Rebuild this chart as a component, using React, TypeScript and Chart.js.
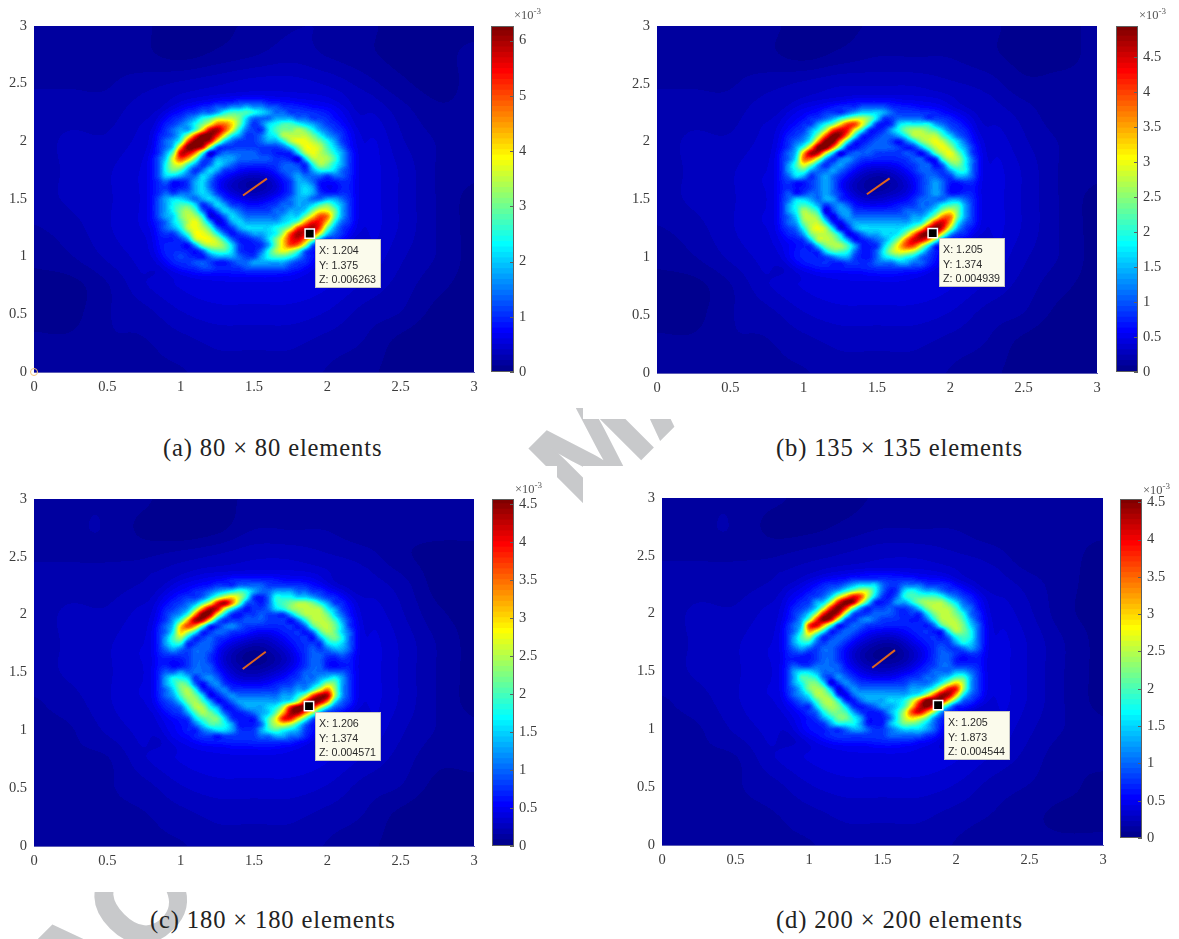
import React, { useEffect, useRef } from "react";
import { Chart, registerables } from "chart.js";
Chart.register(...registerables);

// Hand-read field levels (0-9,a-k = 0..20 twentieths of the colour limit), x 0.70..2.35, y 2.45..0.75
const rowsA = [
"1111111111222222222222222211111111","1111111222222333333222222221111111","1111112222233344443333222222111111","1111122223344556554433332222211111","1111222334457888765443333332221111",
"11122334578abb96444555443332221111","1112334579cffd95346788765433221111","112234558dijgc74336899a97543322111","1123346agkkhc7533467abbb9754322111","1123458gkkic643334557accb975322111",
"112346ekkia433333333469ccb86422111","122359 iif823 444443 32236a cb9753 2111","12346c ge9435 554444 433226 aba853 2111","12347b c85346 543333 334433 7a9753 2111","123479 853465 332222 234443 577643 2111",
"123466 544653 221111 123454 443443 2111","123342 235642 111000 112355 421233 2111","123331 235642 111001 112356 520133 2111","123343 445653 211111 112356 532233 2111","123456 654565 322211 233455 445543 2111",
"123457 886346 533223 334455 689753 2111","123457 9a8424 654333 344556 9cc953 2111","123456 9ba721 465444 445669 dgf953 2111","123346 8bc951 256555 55679e hhd743 2111","122345 7bcb84 235666 678bgi jg9532 2111",
"112333 58cca7 423455 67bgji hc6432 2111","112322 35acca 742234 69dhif a53322 1111","112333 2259bb 963223 59dgfa 422221 1111","112233 322478 863224 7acb84 222211 1111","112233 432245 554335 788753 222111 1111",
"111223 334432 234455 555433 221111 1111","111122 333443 333444 444332 221111 1111","111112 223333 333333 333322 211111 1111","111111 222222 233333 332222 111111 1111","111111 112222 222222 222221 111111 1111",
];
const rowsB = [
"111111 111111 122222 222222 211111 1111","111111 112222 222222 222222 221111 1111","111111 222222 333333 322222 221111 1111","111112 222233 334444 333322 222111 1111","111122 222333 456665 433333 322221 1111",
"111222 233457 9bb963 344443 333222 1111","111222 33579d ggc732 367777 543322 1111","112223 357bgi hc7323 579aa9 864332 1111","112233 46agkj e73234 457abb b86432 2111","112234 58fkke 732344 32469b cb8642 2111",
"112235 8ekkf8 323444 432358 bca753 2111","112346 ejic62 344433 334324 8bc963 2111","112347 ffb534 543333 333442 38ba74 2111","112358 c95345 432222 223344 248974 2111","112357 854454 321111 122344 335774 2111",
"112346 534543 211101 112234 433554 2111","112332 234542 111000 011234 542233 2111","112331 234542 110000 111234 541023 2111","112342 344543 211111 111234 542233 2111","112346 654553 221111 222344 445543 2111",
"112357 875345 422222 233344 578853 2111","112357 a97235 533333 334445 7ac953 2111","112346 ab9414 544444 444557 bff953 2111","112345 9bb731 455555 55567c hie743 2111","112334 7bca62 256666 6679di kha532 2111",
"112233 59bb96 224556 67afjk hb5332 2111","112222 36aba8 522345 7afiif 942221 1111","112222 2369aa 852236 9dggc7 321111 1111","111223 323688 742247 acca74 221111 1111","111223 332345 532246 787643 221111 1111",
"111122 333322 333344 455443 321111 1111","111112 223333 333333 333332 211111 1111","111111 222222 222333 332222 111111 1111","111111 112222 222222 222221 111111 1111","111111 111122 222222 222111 111111 1111",
];
const rowsC = [
"111111 111111 111122 222221 111111 1111","111111 111222 222222 222222 211111 1111","111111 112222 222222 222222 221111 1111","111111 222222 233333 332222 221111 1111","111112 222223 334444 333333 222111 1111",
"111122 223345 678754 455544 332221 1111","111222 333469 cdb732 477766 543322 1111","111223 3458ch jf9432 4789aa 975332 2111","112233 459fji c74233 4679ab ba7532 2111","112234 58fkjc 632334 33358a bb9642 2111",
"112235 8ejic5 333444 333247 aba853 2111","112346 dge833 454333 333324 8ab963 2111","112347 db7334 433322 223332 48a964 2111","112358 a63343 322211 122333 258974 2111","112357 733443 221111 112233 336764 2111",
"112345 434442 111000 111233 434554 2111","112333 334432 110000 011123 443343 2111","112321 234432 110000 001123 442133 2111","112331 234442 111000 111223 442123 2111","112344 544443 211111 112234 444443 2111",
"112357 763454 221111 222334 456753 2111","112357 984245 322222 233344 57a953 2111","112346 9a7324 533333 334455 8cfa53 2111","112345 8a9622 454444 44557a gjjb53 2111","112334 69a852 245555 5567bh kjf743 2111",
"112233 47aa75 224555 67bhkk hc7432 2111","111223 358a97 422345 69ejjf a53222 1111","111222 236899 632225 8chhd8 422111 1111","111222 224688 752224 8bca74 221111 1111","111122 332456 653335 787653 221111 1111",
"111122 223332 333334 455443 221111 1111","111112 222333 333333 333322 211111 1111","111111 222222 233333 332222 111111 1111","111111 122222 222222 222221 111111 1111","111111 111222 222222 222111 111111 1111",
];
const rowsD = [
"111111 111112 222222 222221 111111 1111","111111 111222 222222 222222 111111 1111","111111 112222 223333 322222 221111 1111","111111 222222 333333 333222 221111 1111","111112 223334 566643 344433 332221 1111",
"111222 233457 9ba742 367655 433221 1111","111222 3346ae hgb632 478888 754332 2111","112223 356bhk jd7323 5579aa a86432 2111","112233 46bhkh a53334 33469b ba8542 2111","112234 6ahkia 433444 323369 bb9743 2111",
"112235 9gkib4 345433 332247 aba853 2111","112346 gie833 443333 333324 8ab964 2111","112347 ec7334 432222 223332 37a974 2111","112358 a63344 322111 122333 247874 2111","112357 743443 211110 112233 335764 2111",
"112345 434432 111000 011223 433454 2111","112333 234432 110000 001123 443233 2111","112321 234432 110000 011223 442023 2111","112343 344442 211111 111233 443333 2111","112356 654443 221111 122334 445543 2111",
"112358 874354 322212 233344 568853 2111","112357 996235 433333 334445 7ada53 2111","112346 9a9513 544444 445568 dhha53 2111","112345 7aa831 455555 5567af jje743 2111","112234 58aa73 245556 67afkk je8432 2111",
"112223 369a96 323455 68dikh b63222 1111","111222 347998 532235 7bgifa 532111 1111","111222 235799 752224 7bdc95 321111 1111","111122 323577 752225 799864 221111 1111","111122 332334 554334 566654 221111 1111",
"111112 223333 333334 444433 211111 1111","111111 222333 333333 333222 111111 1111","111111 122222 222333 322222 111111 1111","111111 111222 222222 222211 111111 1111","111111 111112 222222 222111 111111 1111",
];
// Far field, percent of the colour limit, x 0..3 and y 3..0 in steps of 0.25
const farA = [[3,3,3,2,0,1,2,3,3,2,1,1,1],[3,3,3,2,1,2,3,4,3,2,1,1,2],[3,3,3,4,5,6,7,7,6,4,2,1,2],[4,4,4,6,8,9,9,9,9,7,4,2,2],[4,5,5,7,9,9,9,9,9,9,5,3,2],[4,5,6,8,9,9,9,9,9,9,6,3,2],[4,5,6,8,9,9,9,9,9,9,6,3,1],[3,4,6,8,9,9,9,9,9,9,6,3,1],[2,3,5,7,9,9,9,9,9,8,5,3,1],[1,1,3,6,8,9,9,9,8,6,4,2,1],[1,1,3,4,6,7,7,7,6,4,3,1,1],[2,2,3,3,4,5,5,5,4,3,1,0,1],[3,3,3,3,3,4,4,4,3,2,1,1,1]];
const farB = [[3,3,3,2,1,1,2,3,3,2,1,1,2],[3,3,3,2,1,2,3,3,3,2,1,1,2],[3,3,3,4,5,6,6,6,5,4,2,2,2],[4,4,4,6,7,8,9,9,8,6,4,2,2],[4,5,5,7,9,9,9,9,9,8,5,3,2],[4,5,6,8,9,9,9,9,9,9,6,3,2],[4,5,6,8,9,9,9,9,9,9,6,3,1],[3,4,6,8,9,9,9,9,9,9,6,3,1],[2,3,5,7,9,9,9,9,9,8,5,3,1],[1,1,3,6,8,9,9,9,8,6,4,2,1],[1,1,3,4,6,7,7,7,6,4,3,1,1],[2,2,3,3,4,5,5,5,4,3,1,0,1],[3,3,3,3,3,4,4,4,3,2,1,1,1]];
const farC = [[3,3,3,2,0,1,2,3,3,3,2,2,2],[3,3,3,1,0,1,3,3,3,2,2,2,2],[3,3,3,3,4,5,6,6,5,4,2,1,1],[4,4,4,5,7,8,8,8,8,6,4,1,1],[4,5,5,7,8,9,9,9,9,8,5,2,1],[4,5,6,8,9,9,9,9,9,9,6,3,1],[4,5,6,8,9,9,9,9,9,9,6,3,1],[3,4,6,8,9,9,9,9,9,9,6,3,1],[3,3,5,7,9,9,9,9,9,8,5,3,2],[3,3,3,6,8,9,9,9,8,6,4,2,2],[3,3,3,4,6,7,7,7,6,4,3,1,1],[3,3,3,3,4,5,5,5,4,3,1,0,1],[3,3,3,3,3,4,4,4,3,2,1,1,1]];
const farD = [[3,3,3,2,1,1,2,3,3,3,2,2,2],[3,3,3,1,1,2,3,3,3,2,2,2,2],[3,3,3,3,4,5,6,6,5,4,2,2,1],[4,4,4,5,7,8,8,8,8,6,4,2,1],[4,5,5,7,8,9,9,9,9,8,5,2,1],[4,5,6,8,9,9,9,9,9,9,6,3,1],[4,5,6,8,9,9,9,9,9,9,6,3,1],[3,4,6,8,9,9,9,9,9,9,6,3,1],[3,3,5,7,9,9,9,9,9,8,5,3,2],[3,3,3,6,8,9,9,9,8,6,4,2,2],[3,3,3,4,6,7,7,7,6,4,3,2,1],[3,3,3,3,4,5,5,5,4,3,2,1,1],[3,3,3,3,3,4,4,4,3,2,2,2,2]];

const captions = ["(a) 80 × 80 elements", "(b) 135 × 135 elements", "(c) 180 × 180 elements", "(d) 200 × 200 elements"];
const colourLimits = [6.263, 4.939, 4.571, 4.544];
const colourSteps = [1, 0.5, 0.5, 0.5];
const tipTexts = [
  ["X: 1.204", "Y: 1.375", "Z: 0.006263"],
  ["X: 1.205", "Y: 1.374", "Z: 0.004939"],
  ["X: 1.206", "Y: 1.374", "Z: 0.004571"],
  ["X: 1.205", "Y: 1.873", "Z: 0.004544"],
];
const markerX = [1.88, 1.88, 1.875, 1.878];
const markerY = [1.2, 1.21, 1.21, 1.21];
const crackX = [[1.425, 1.588], [1.431, 1.586], [1.423, 1.58], [1.43, 1.585]];
const crackY = [[1.53, 1.677], [1.545, 1.683], [1.53, 1.68], [1.532, 1.685]];
const axisTicks = [0, 0.5, 1, 1.5, 2, 2.5, 3];

const layouts = [
  { plot: [34, 26, 474, 372], bar: [491, 26, 514, 372], cap: [163, 448], exp: [514, 15], tip: [5, 5] },
  { plot: [657, 26, 1097, 373], bar: [1116, 26, 1138, 372], cap: [776, 448], exp: [1139, 15], tip: [6, 5] },
  { plot: [34, 499, 474, 846], bar: [492, 499, 514, 846], cap: [150, 920], exp: [515, 489], tip: [6, 6] },
  { plot: [662, 498, 1103, 845], bar: [1120, 499, 1142, 838], cap: [776, 920], exp: [1143, 490], tip: [6, 6] },
];
const allRows = [rowsA, rowsB, rowsC, rowsD];
const allFar = [farA, farB, farC, farD];
const LEVELS = "0123456789abcdefghijk";
const SERIF = "'Liberation Serif', serif";

function jet(t: number) {
  const i = Math.min(63, Math.max(0, Math.floor(t * 64)));
  const u = (i + 1) / 64;
  const c = (v: number) => Math.round(255 * Math.max(0, Math.min(1, v)));
  return [c(1.5 - Math.abs(4 * u - 3)), c(1.5 - Math.abs(4 * u - 2)), c(1.5 - Math.abs(4 * u - 1))];
}
const cubic = (a: number, b: number, c: number, d: number, t: number) =>
  b + 0.5 * t * (c - a + t * (2 * a - 5 * b + 4 * c - d + t * (3 * (b - c) + d - a)));
function sample(g: number[], nx: number, ny: number, fx: number, fy: number) {
  const ix = Math.floor(fx), iy = Math.floor(fy);
  const tx = fx - ix, ty = fy - iy;
  const at = (c: number, r: number) =>
    g[Math.max(0, Math.min(ny - 1, r)) * nx + Math.max(0, Math.min(nx - 1, c))];
  const row = (r: number) => cubic(at(ix - 1, r), at(ix, r), at(ix + 1, r), at(ix + 2, r), tx);
  return cubic(row(iy - 1), row(iy), row(iy + 1), row(iy + 2), ty);
}
// Soften only the faint glow so that the coarse hand-read levels do not show as stairs.
function softened(g: number[], nx: number, ny: number, limit: number) {
  const w = [1, 4, 6, 4, 1];
  const out = g.slice();
  for (let r = 0; r < ny; r++) {
    for (let c = 0; c < nx; c++) {
      let s = 0, n = 0;
      for (let a = -2; a <= 2; a++) {
        for (let b = -2; b <= 2; b++) {
          const rr = Math.max(0, Math.min(ny - 1, r + a));
          const cc = Math.max(0, Math.min(nx - 1, c + b));
          const k = w[a + 2] * w[b + 2];
          s += g[rr * nx + cc] * k;
          n += k;
        }
      }
      const blur = s / n;
      const m = Math.max(0, Math.min(1, (blur / limit - 0.12) / 0.12));
      out[r * nx + c] = blur * (1 - m) + g[r * nx + c] * m;
    }
  }
  return out;
}

const NX = 34, NY = 35, NF = 13;
const heatPlugin = {
  id: "heat",
  beforeDatasetsDraw(chart: any) {
    const cfg = chart.options.plugins.heat;
    if (!cfg || !cfg.on) return;
    const { left, top, right, bottom } = chart.chartArea;
    const sx = chart.scales.x, sy = chart.scales.y;
    const fine = softened(chart.data.datasets[0].data.map((p: any) => p.v), NX, NY, cfg.limit);
    const far = chart.data.datasets[1].data.map((p: any) => p.v);
    const w = Math.round(right - left), h = Math.round(bottom - top);
    const img = chart.ctx.createImageData(w, h);
    for (let py = 0; py < h; py++) {
      const y = sy.getValueForPixel(top + py + 0.5);
      for (let px = 0; px < w; px++) {
        const x = sx.getValueForPixel(left + px + 0.5);
        let v = sample(far, NF, NF, x / 0.25, (3 - y) / 0.25);
        const d = Math.min(x - 0.7, 2.35 - x, y - 0.75, 2.45 - y);
        if (d > 0) {
          const s = Math.min(1, d / 0.2);
          const m = s * s * (3 - 2 * s);
          const f = sample(fine, NX, NY, (x - 0.7) / 0.05, (2.45 - y) / 0.05);
          v = v * (1 - m) + f * m;
        }
        const c = jet(v / cfg.limit);
        const o = (py * w + px) * 4;
        img.data[o] = c[0]; img.data[o + 1] = c[1]; img.data[o + 2] = c[2]; img.data[o + 3] = 255;
      }
    }
    chart.ctx.putImageData(img, Math.round(left), Math.round(top));
  },
  afterDatasetsDraw(chart: any) {
    const cfg = chart.options.plugins.heat;
    if (!cfg || !cfg.on) return;
    const ctx = chart.ctx;
    const mx = chart.scales.x.getPixelForValue(cfg.mx);
    const my = chart.scales.y.getPixelForValue(cfg.my);
    const bx = Math.round(mx + cfg.tip[0]), by = Math.round(my + cfg.tip[1]);
    ctx.save();
    ctx.fillStyle = "#fbfbec";
    ctx.strokeStyle = "#c4c4c4";
    ctx.lineWidth = 1;
    ctx.fillRect(bx, by, 66, 49);
    ctx.strokeRect(bx + 0.5, by + 0.5, 65, 48);
    ctx.fillStyle = "#2a2a2a";
    ctx.font = "10.7px 'Liberation Sans', sans-serif";
    ctx.textBaseline = "middle";
    cfg.text.forEach((t: string, i: number) => ctx.fillText(t, bx + 4, by + 12.5 + i * 14.2));
    ctx.restore();
  },
};
const barPlugin = {
  id: "barFrame",
  afterDraw(chart: any) {
    if (!chart.options.plugins.barFrame?.on) return;
    const { left, top, right, bottom } = chart.chartArea;
    const ctx = chart.ctx;
    ctx.save();
    ctx.strokeStyle = "#5f5f5f";
    ctx.lineWidth = 1;
    ctx.strokeRect(left + 0.5, top + 0.5, right - left - 1, bottom - top - 1);
    chart.scales.y.ticks.forEach((t: any) => {
      const y = Math.round(chart.scales.y.getPixelForValue(t.value)) + 0.5;
      ctx.beginPath();
      ctx.moveTo(right - 4, y);
      ctx.lineTo(right, y);
      ctx.stroke();
    });
    ctx.restore();
  },
};
Chart.register(heatPlugin, barPlugin);

const fixX = (s: any) => { s.height = 30; s.paddingLeft = 0; s.paddingRight = 0; s.paddingTop = 0; s.paddingBottom = 0; };
const fixY = (w: number) => (s: any) => { s.width = w; s.paddingLeft = 0; s.paddingRight = 0; s.paddingTop = 0; s.paddingBottom = 0; };

function plotConfig(i: number): any {
  const fine: any[] = [];
  allRows[i].forEach((row, r) => {
    const s = row.replace(/ /g, "");
    for (let c = 0; c < NX; c++) {
      const base = Math.max(0, LEVELS.indexOf(s[c] ?? "1"));
      // the cyan bands read a little low against the reference
      const lift = base === 3 ? 0.2 : base === 4 ? 0.4 : base >= 5 && base <= 10 ? 0.6 : 0;
      fine.push({ x: 0.7 + 0.05 * c, y: 2.45 - 0.05 * r, v: ((base + lift) / 20) * colourLimits[i] });
    }
  });
  const far: any[] = [];
  allFar[i].forEach((row, r) =>
    row.forEach((p, c) => far.push({ x: 0.25 * c, y: 3 - 0.25 * r, v: (p / 100) * colourLimits[i] }))
  );
  const datasets: any[] = [
    { type: "scatter", data: fine, pointRadius: 0 },
    { type: "scatter", data: far, pointRadius: 0 },
    {
      type: "line",
      data: [{ x: crackX[i][0], y: crackY[i][0] }, { x: crackX[i][1], y: crackY[i][1] }],
      borderColor: "#e0641f",
      borderWidth: 2,
      pointRadius: 0,
    },
    {
      type: "scatter",
      data: [{ x: markerX[i], y: markerY[i] }],
      pointStyle: "rect",
      pointRadius: 6.6,
      backgroundColor: "#000",
      borderColor: "#fff",
      borderWidth: 1.5,
    },
  ];
  if (i === 0)
    datasets.push({
      type: "scatter",
      data: [{ x: 0, y: 0 }],
      pointRadius: 3.5,
      backgroundColor: "transparent",
      borderColor: "#f3c57a",
      borderWidth: 1,
      clip: false,
    });
  const tickFont = { family: SERIF, size: 14.5 };
  return {
    type: "scatter",
    data: { datasets },
    options: {
      animation: false,
      responsive: false,
      events: [],
      layout: { padding: { top: 10, right: 14, left: 0, bottom: 0 } },
      plugins: {
        legend: { display: false },
        tooltip: { enabled: false },
        heat: { on: true, limit: colourLimits[i], mx: markerX[i], my: markerY[i], tip: layouts[i].tip, text: tipTexts[i] },
      },
      scales: {
        x: {
          type: "linear", min: 0, max: 3,
          afterFit: fixX,
          afterBuildTicks: (s: any) => { s.ticks = axisTicks.map((value) => ({ value })); },
          grid: { display: false, drawTicks: false },
          border: { display: true, color: "#5b5bb4" },
          ticks: { font: tickFont, color: "#3c3c3c", padding: 6, maxRotation: 0, autoSkip: false, callback: (v: any) => String(v) },
        },
        y: {
          type: "linear", min: 0, max: 3,
          afterFit: fixY(34),
          afterBuildTicks: (s: any) => { s.ticks = axisTicks.map((value) => ({ value })); },
          grid: { display: false, drawTicks: false },
          border: { display: true, color: "#5b5bb4" },
          ticks: { font: tickFont, color: "#3c3c3c", padding: 7, autoSkip: false, callback: (v: any) => String(v) },
        },
      },
    },
  };
}

function barConfig(i: number): any {
  const limit = colourLimits[i];
  const datasets: any[] = [];
  for (let k = 0; k < 64; k++) {
    const c = jet((k + 0.5) / 64);
    datasets.push({
      data: [[(k / 64) * limit, ((k + 1.15) / 64) * limit]],
      backgroundColor: `rgb(${c[0]},${c[1]},${c[2]})`,
      borderWidth: 0,
      barPercentage: 1,
      categoryPercentage: 1,
      grouped: false,
    });
  }
  const step = colourSteps[i];
  const tickVals: number[] = [];
  for (let k = 0; k * step <= limit; k++) tickVals.push(k * step);
  return {
    type: "bar",
    data: { labels: [""], datasets },
    options: {
      animation: false,
      responsive: false,
      events: [],
      layout: { padding: { top: 10, bottom: 10, left: 0, right: 0 } },
      plugins: { legend: { display: false }, tooltip: { enabled: false }, barFrame: { on: true } },
      scales: {
        x: { display: false },
        y: {
          position: "right", min: 0, max: limit,
          afterFit: fixY(40),
          afterBuildTicks: (s: any) => { s.ticks = tickVals.map((value) => ({ value })); },
          grid: { display: false, drawTicks: false },
          border: { display: false },
          ticks: { font: { family: SERIF, size: 14.5 }, color: "#3c3c3c", padding: 5, autoSkip: false, callback: (v: any) => String(v) },
        },
      },
    },
  };
}

function Panel({ i }: { i: number }) {
  const a = useRef<HTMLCanvasElement>(null);
  const b = useRef<HTMLCanvasElement>(null);
  useEffect(() => {
    const c1 = new Chart(a.current as any, plotConfig(i));
    const c2 = new Chart(b.current as any, barConfig(i));
    return () => { c1.destroy(); c2.destroy(); };
  }, [i]);
  const L = layouts[i];
  const [pl, pt, pr, pb] = L.plot;
  const [bl, bt, br, bb] = L.bar;
  return (
    <>
      <canvas ref={a} width={pr - pl + 34 + 14} height={pb - pt + 10 + 30}
        style={{ position: "absolute", left: pl - 34, top: pt - 10 }} />
      <canvas ref={b} width={br - bl + 40} height={bb - bt + 20}
        style={{ position: "absolute", left: bl, top: bt - 10 }} />
      <div style={{ position: "absolute", left: L.exp[0], top: L.exp[1] - 8, font: `12.5px/16px ${SERIF}`, color: "#555", whiteSpace: "nowrap" }}>
        ×10<sup style={{ fontSize: 9, lineHeight: 0 }}>-3</sup>
      </div>
      <div style={{ position: "absolute", left: L.cap[0], top: L.cap[1] - 15, font: `24.6px/30px ${SERIF}`, letterSpacing: 0.85, color: "#222", whiteSpace: "nowrap" }}>
        {captions[i]}
      </div>
    </>
  );
}

export default function App() {
  return (
    <div style={{ position: "absolute", left: 0, top: 0, width: 1179, height: 939, overflow: "hidden", background: "#fff" }}>
      <div style={{
        position: "absolute", left: 0, top: 0, width: 1179, height: 939,
        clipPath: "polygon(500px 408px,583px 408px,583px 419px,680px 419px,680px 466px,583px 466px,583px 515px,557px 515px,557px 466px,500px 466px,500px 892px,200px 892px,200px 939px,0px 939px,0px 892px,500px 892px)",
      }}>
        <div style={{
          position: "absolute", left: -1, top: 951, transform: "rotate(-45deg)", transformOrigin: "0 0",
          font: "bold 125px/125px 'Liberation Sans', sans-serif", color: "#c8c9cb", whiteSpace: "nowrap",
          WebkitTextStroke: "2px #c8c9cb",
        }}>
          ACCEPTED MANUSCRIPT
        </div>
      </div>
      {[0, 1, 2, 3].map((i) => <Panel key={i} i={i} />)}
    </div>
  );
}
